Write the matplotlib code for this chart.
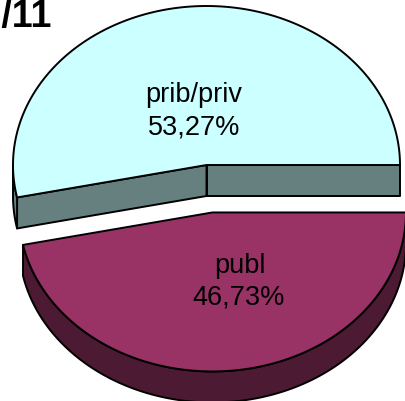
import numpy as np
import matplotlib
matplotlib.use("Agg")
import matplotlib.pyplot as plt
from matplotlib.patches import Polygon

# Data
labels = ["prib/priv", "publ"]
values = [53.27, 46.73]
top_colors = ["#CCFFFF", "#993366"]
side_colors = ["#668080", "#4D1A33"]
explode = [0.0, 0.3]
title = "2010/11"

W, H = 405, 402
fig = plt.figure(figsize=(W / 100, H / 100), dpi=100)
ax = fig.add_axes([0, 0, 1, 1])
ax.set_xlim(0, W)
ax.set_ylim(H, 0)
ax.axis("off")

# pie geometry (pixel space, y grows downward)
cx, cy = 206.5, 166.0
rx, ry = 193.5, 159.0
depth = 31.0
lw = 1.4
font = "Liberation Sans"


def pt(theta, ox, oy, dz=0.0):
    return (ox + rx * np.cos(theta), oy - ry * np.sin(theta) + dz)


def arc(a, b, ox, oy, dz=0.0, n=200):
    t = np.linspace(a, b, n)
    return np.column_stack([ox + rx * np.cos(t), oy - ry * np.sin(t) + dz])


total = sum(values)
start = 0.0
label_pos = [((194, 102), (194, 135)), ((240, 273), (239, 305))]

for i, v in enumerate(values):
    a = start
    b = start + 2 * np.pi * v / total
    start = b
    mid = (a + b) / 2
    ox = cx + explode[i] * rx * np.cos(mid)
    oy = cy - explode[i] * ry * np.sin(mid)

    faces = []
    # radial cut faces facing the viewer
    for ang, vis in ((a, np.cos(a) > 1e-9), (b, np.cos(b) < -1e-9)):
        if vis:
            p = pt(ang, ox, oy)
            faces.append([(ox, oy), p, (p[0], p[1] + depth), (ox, oy + depth)])
    # outer curved wall on the front half
    lo, hi = max(a, np.pi), min(b, 2 * np.pi)
    if hi > lo:
        top_edge = arc(lo, hi, ox, oy)
        bot_edge = arc(hi, lo, ox, oy, depth)
        faces.append(np.vstack([top_edge, bot_edge]))
    for f in faces:
        ax.add_patch(Polygon(f, closed=True, facecolor=side_colors[i],
                             edgecolor="black", lw=lw, joinstyle="round"))

    top = np.vstack([[ox, oy], arc(a, b, ox, oy)])
    ax.add_patch(Polygon(top, closed=True, facecolor=top_colors[i],
                         edgecolor="black", lw=lw, joinstyle="round"))

    (x1, y1), (x2, y2) = label_pos[i]
    ax.text(x1, y1, labels[i], ha="center", va="baseline",
            fontsize=19.5, family=font, color="black")
    ax.text(x2, y2, f"{v:.2f}%".replace(".", ","), ha="center", va="baseline",
            fontsize=19.5, family=font, color="black")

ax.text(52, 27, title, ha="right", va="baseline", fontsize=27,
        fontweight="bold", family=font, color="black")

fig.savefig("out.png", dpi=100, facecolor="white")
